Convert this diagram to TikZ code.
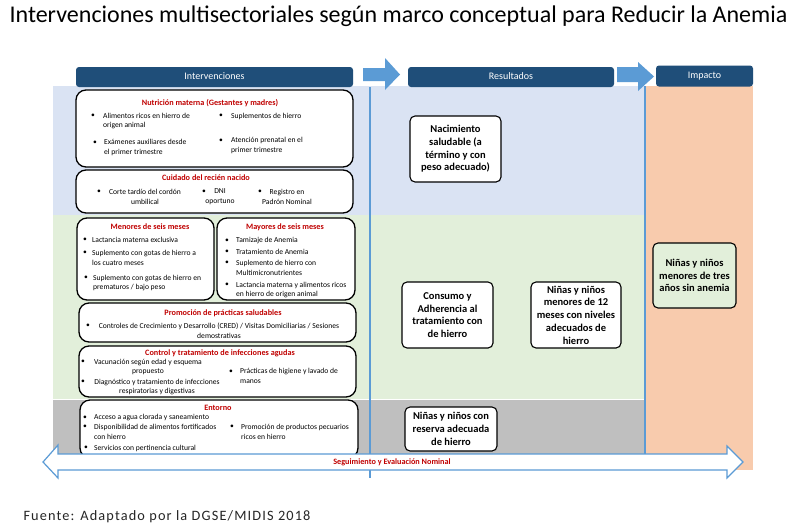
\documentclass[tikz,border=0pt]{standalone}
\usepackage{fontspec}
\setmainfont{Carlito}
\newfontfamily\spacedfont[LetterSpace=8]{Carlito}
\usepackage{tikz}
\definecolor{headblue}{HTML}{1F4E79}
\definecolor{arrowblue}{HTML}{5B9BD5}
\definecolor{bandblue}{HTML}{DAE3F3}
\definecolor{bandgreen}{HTML}{E2EFDA}
\definecolor{bandgray}{HTML}{BFBFBF}
\definecolor{bandorange}{HTML}{F8CBAD}
\definecolor{headred}{HTML}{C00000}

\begin{document}
\begin{tikzpicture}[
  x=1pt, y=-1pt,
  header/.style={rectangle, rounded corners=3pt, fill=headblue, text=white,
                 font=\fontsize{10}{12}\selectfont, text height=1.6ex, text depth=0.4ex,
                 inner sep=0pt},
  group/.style={rectangle, draw, line width=1.3pt, rounded corners=10pt,
                fill=white, inner sep=0pt},
  result/.style={rectangle, draw, line width=1.1pt, rounded corners=5pt, fill=white,
                 align=center, font=\fontsize{10.5}{12.7}\selectfont\bfseries, inner sep=0pt},
  gtitle/.style={font=\fontsize{8.2}{10}\selectfont\bfseries, text=headred, inner sep=0pt},
  item/.style={font=\fontsize{7.6}{9.8}\selectfont, align=left, anchor=west, inner sep=0pt},
  citem/.style={font=\fontsize{7.6}{9.8}\selectfont, align=center, inner sep=0pt},
  bul/.style={font=\fontsize{7.6}{9.8}\selectfont, inner sep=0pt},
  divider/.style={arrowblue, line width=1.5pt},
  blockarrow/.style={fill=arrowblue},
]

\useasboundingbox[fill=white] (0,0) rectangle (797,528);

\node[font=\fontsize{24}{28}\selectfont] (title) at (398.5,16)
  {Intervenciones multisectoriales según marco conceptual para Reducir la Anemia};

\fill[bandblue] (53,86) rectangle (644,215);
\fill[bandgreen] (53,215) rectangle (644,398.5);
\fill[bandgray] (53,400) rectangle (644,454);
\fill[bandorange] (646,86) rectangle (753,470);
\draw[divider] (370,87) -- (370,478);
\draw[divider] (645,86) -- (645,470);

\node[header, minimum width=277, minimum height=20] (hint) at (214.5,77) {Intervenciones};
\node[header, minimum width=206, minimum height=20] (hres) at (511,77) {Resultados};
\node[header, minimum width=97, minimum height=21] (himp) at (704.5,76) {Impacto};

\fill[blockarrow] (363,68) -- (385,68) -- (385,58) -- (400,74.5) -- (385,90) -- (385,81)
  -- (363,81) -- cycle;
\fill[blockarrow] (617,67) -- (638,67) -- (638,62) -- (654,76.5) -- (638,91) -- (638,82)
  -- (617,82) -- cycle;

\node[group, minimum width=277, minimum height=77] (nutri) at (214.5,128.5) {};
\node[group, minimum width=277, minimum height=43] (cuidado) at (214.5,191.5) {};
\node[group, minimum width=137, minimum height=82] (menores) at (145.5,259) {};
\node[group, minimum width=138, minimum height=82] (mayores) at (286,259) {};
\node[group, minimum width=277, minimum height=39] (promo) at (217.5,322.5) {};
\node[group, minimum width=277, minimum height=51] (control) at (217.5,371.5) {};
\node[group, minimum width=278, minimum height=58] (entorno) at (219,429) {};

\node[gtitle] (tnutri) at (210,103) {Nutrición materna (Gestantes y madres)};
\node[bul] at (93,116) {\textbullet};
\node[item] (n1) at (103,121) {Alimentos ricos en hierro de\\origen animal};
\node[bul] at (221,116) {\textbullet};
\node[item] (n2) at (231,116) {Suplementos de hierro};
\node[bul] at (95,143) {\textbullet};
\node[item] (n3) at (104,147.5) {Exámenes auxiliares desde\\el primer trimestre};
\node[bul] at (221,141) {\textbullet};
\node[item] (n4) at (231,145.5) {Atención prenatal en el\\primer trimestre};

\node[gtitle] (tcuidado) at (206,178) {Cuidado del recién nacido};
\node[bul] at (99,192) {\textbullet};
\node[citem] (c1) at (145,197) {Corte tardío del cordón\\umbilical};
\node[bul] at (204,192) {\textbullet};
\node[citem] (c2) at (220,197) {DNI\\oportuno};
\node[bul] at (260,192) {\textbullet};
\node[citem] (c3) at (287,197) {Registro en\\Padrón Nominal};

\node[gtitle] (tmenores) at (150,227) {Menores de seis meses};
\node[bul] at (85,240) {\textbullet};
\node[item] (m1) at (92,240) {Lactancia materna exclusiva};
\node[bul] at (85,253) {\textbullet};
\node[item] (m2) at (92,258) {Suplemento con gotas de hierro a\\los cuatro meses};
\node[bul] at (86,278) {\textbullet};
\node[item] (m3) at (93,283) {Suplemento con gotas de hierro en\\prematuros / bajo peso};

\node[gtitle] (tmayores) at (285,227) {Mayores de seis meses};
\node[bul] at (227,241) {\textbullet};
\node[item] (y1) at (236,241) {Tamizaje de Anemia};
\node[bul] at (227,252) {\textbullet};
\node[item] (y2) at (236,252) {Tratamiento de Anemia};
\node[bul] at (227,263) {\textbullet};
\node[item] (y3) at (236,268) {Suplemento de hierro con\\Multimicronutrientes};
\node[bul] at (227,285) {\textbullet};
\node[item] (y4) at (236,290) {Lactancia materna y alimentos ricos\\en hierro de origen animal};

\node[gtitle] (tpromo) at (223,313) {Promoción de prácticas saludables};
\node[bul] at (88,326) {\textbullet};
\node[citem] (p1) at (219,330.5)
  {Controles de Crecimiento y Desarrollo (CRED) / Visitas Domiciliarias / Sesiones\\demostrativas};

\node[gtitle] (tcontrol) at (220,353) {Control y tratamiento de infecciones agudas};
\node[bul] at (83,362) {\textbullet};
\node[citem] (k1) at (148,367) {Vacunación según edad y esquema\\propuesto};
\node[bul] at (83,382) {\textbullet};
\node[citem] (k2) at (157,387) {Diagnóstico y tratamiento de infecciones\\respiratorias y digestivas};
\node[bul] at (231,372) {\textbullet};
\node[item] (k3) at (240,376) {Prácticas de higiene y lavado de\\manos};

\node[gtitle] (tentorno) at (218,408) {Entorno};
\node[bul] at (85,418) {\textbullet};
\node[item] (e1) at (94,418) {Acceso a agua clorada y saneamiento};
\node[bul] at (85,427) {\textbullet};
\node[item] (e2) at (94,432) {Disponibilidad de alimentos fortificados\\con hierro};
\node[bul] at (86,448) {\textbullet};
\node[item] (e3) at (94,448) {Servicios con pertinencia cultural};
\node[bul] at (232,427) {\textbullet};
\node[item] (e4) at (241,431.5) {Promoción de productos pecuarios\\ricos en hierro};

\node[result, minimum width=91, minimum height=66] (nacim) at (455.5,149)
  {Nacimiento\\saludable (a\\término y con\\peso adecuado)};
\node[result, minimum width=91, minimum height=66] (consumo) at (447.5,315)
  {Consumo y\\Adherencia al\\tratamiento con\\de hierro};
\node[result, minimum width=90, minimum height=66] (ninos12) at (576,315)
  {Niñas y niños\\menores de 12\\meses con niveles\\adecuados de\\hierro};
\node[result, minimum width=92, minimum height=44] (reserva) at (451,429)
  {Niñas y niños con\\reserva adecuada\\de hierro};
\node[result, fill=bandgreen, minimum width=83, minimum height=65] (sinanemia) at (694.5,275.5)
  {Niñas y niños\\menores de tres\\años sin anemia};

\draw[arrowblue, line width=1.2pt, fill=white] (43,462) -- (58,445) -- (58,454) -- (727,454)
  -- (727,446) -- (743,462) -- (727,478) -- (727,470) -- (58,470) -- (58,478) -- cycle;
\node[gtitle] (seguim) at (392,462) {Seguimiento y Evaluación Nominal};

\node[anchor=west, font=\spacedfont\fontsize{14.3}{16}\selectfont, text=black!85] (fuente)
  at (20,517) {Fuente: Adaptado por la DGSE/MIDIS 2018};

\end{tikzpicture}
\end{document}
